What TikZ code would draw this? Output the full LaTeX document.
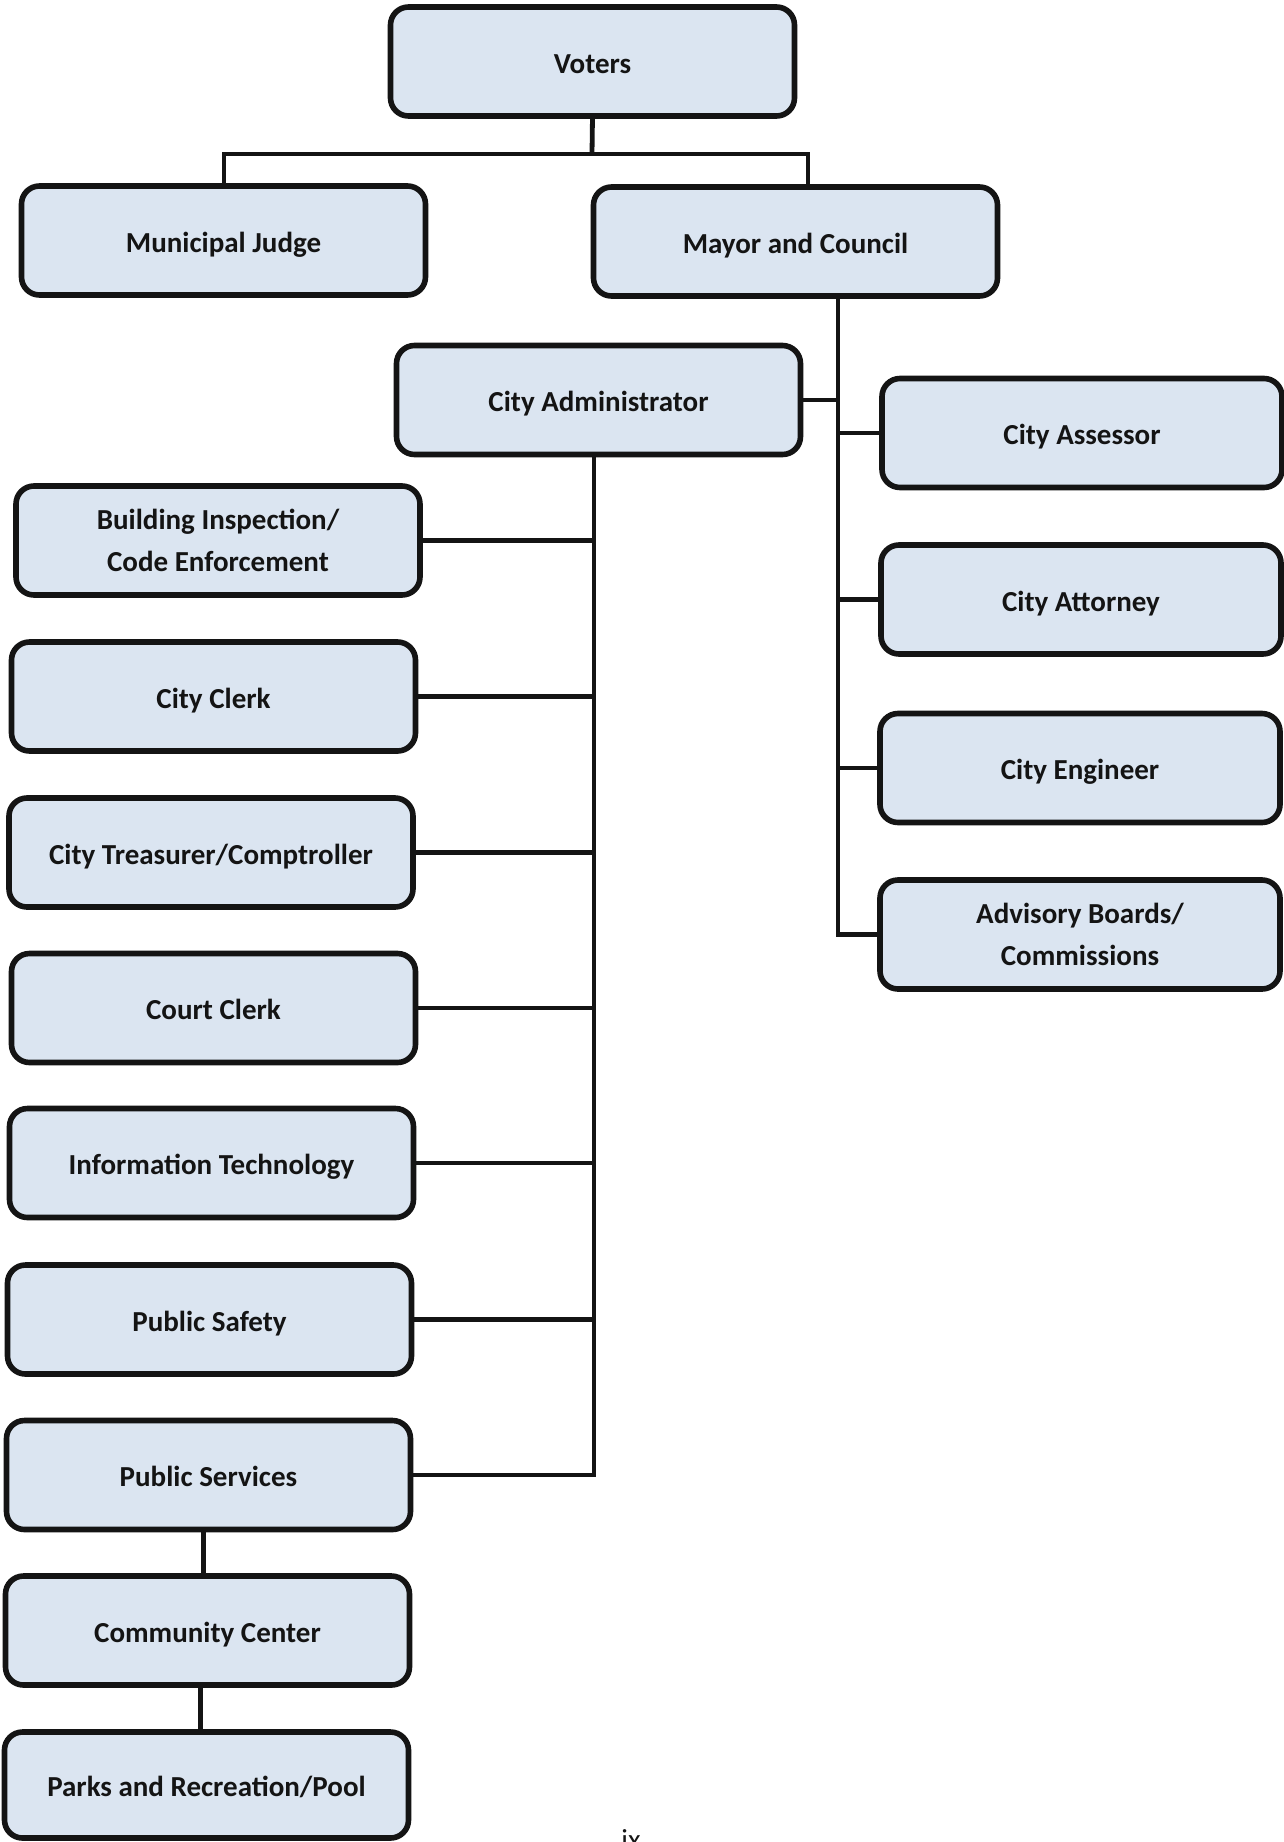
\documentclass[tikz,border=0pt]{standalone}
\usepackage{fontspec}
\setmainfont{Carlito}
\definecolor{boxfill}{RGB}{219,229,241}
\definecolor{ink}{RGB}{20,20,20}
\begin{document}
\begin{tikzpicture}[x=0.5pt,y=-0.5pt,
  orgbox/.style={draw=ink, line width=2.8pt, fill=boxfill, rounded corners=9pt,
    minimum width=202pt, minimum height=54.5pt, align=center, text=ink,
    font=\fontsize{14.5}{21}\selectfont\bfseries, inner sep=0pt, outer sep=0pt},
  one/.style={text height=14.5pt, text depth=2.9pt},
  rbox/.style={orgbox, minimum width=200pt},
  link/.style={draw=ink, line width=2.4pt}]
\useasboundingbox (0,0) rectangle (1284,1842);
% top
\node[orgbox, one] (voters) at (592.5,61.5) {Voters};
\node[orgbox, one] (judge) at (223.5,240.5) {Municipal Judge};
\node[orgbox, one] (mayor) at (795.5,241.5) {Mayor and Council};
\node[orgbox, one] (admin) at (598.5,400) {City Administrator};
% right column
\node[rbox, one] (assessor) at (1082,433) {City Assessor};
\node[rbox, one] (attorney) at (1081,599.5) {City Attorney};
\node[rbox, one] (engineer) at (1080,768) {City Engineer};
\node[rbox] (advisory) at (1080,934.5) {Advisory Boards/\\Commissions};
% left column
\node[orgbox] (building) at (218,540.5) {Building Inspection/\\Code Enforcement};
\node[orgbox, one] (clerk) at (213.5,696.5) {City Clerk};
\node[orgbox, one] (treasurer) at (211,852.5) {City Treasurer/Comptroller};
\node[orgbox, one] (court) at (213.5,1008) {Court Clerk};
\node[orgbox, one] (it) at (211.5,1163) {Information Technology};
\node[orgbox, one] (safety) at (209.5,1319.5) {Public Safety};
\node[orgbox, one] (services) at (208.5,1475) {Public Services};
\node[orgbox, one] (community) at (207.5,1630.5) {Community Center};
\node[orgbox, one, minimum height=53pt] (parks) at (206.5,1785) {Parks and Recreation/Pool};
% page number
\node[anchor=base, font=\fontsize{14.5}{17}\selectfont, text=ink] (pageno) at (631,1849) {ix};
% connectors from voters
\coordinate (vsplit) at (592,154);
\coordinate (vleft) at (224,154);
\coordinate (vright) at (808,154);
\draw[link] (voters.south) -- (vsplit);
\draw[link] (vleft |- judge.north) -- (vleft) -- (vright) -- (vright |- mayor.north);
% mayor bus
\coordinate (mbus) at (838,296);
\coordinate (mend) at (838,934.5);
\draw[link] (mayor.south -| mbus) -- (mend) -- (advisory.west);
\foreach \n in {admin}{\draw[link] (\n.east) -- (mbus |- \n.east);}
\foreach \n in {assessor,attorney,engineer}{\draw[link] (\n.west) -- (mbus |- \n.west);}
% administrator bus
\coordinate (abus) at (594,455);
\draw[link] (admin.south -| abus) -- (abus |- services.east) -- (services.east);
\foreach \n in {building,clerk,treasurer,court,it,safety}{\draw[link] (\n.east) -- (abus |- \n.east);}
% chain
\draw[link] ([xshift=-2.5pt]services.south) -- ([xshift=-2.5pt]services.south |- community.north);
\draw[link] ([xshift=-3.5pt]community.south) -- ([xshift=-3.5pt]community.south |- parks.north);
\end{tikzpicture}
\end{document}
